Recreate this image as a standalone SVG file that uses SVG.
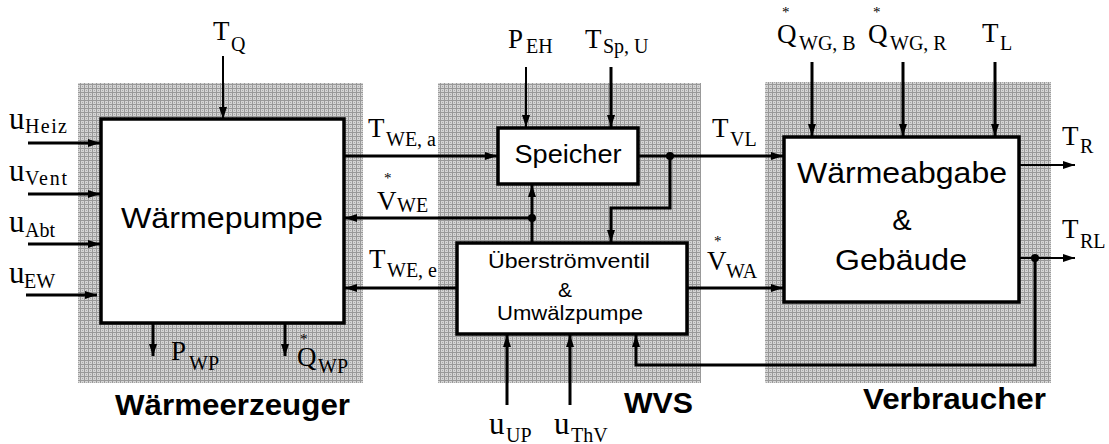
<svg xmlns="http://www.w3.org/2000/svg" width="1109" height="444" viewBox="0 0 1109 444">
<style>
.box{fill:#fff;stroke:#000;stroke-width:3.5}
.area{fill:url(#dots)}
.c{fill:none;stroke:#000;stroke-width:3}
.ct{fill:none;stroke:#000;stroke-width:2}
.bt{font-family:"Liberation Sans",Arial,sans-serif;fill:#000;text-anchor:middle}
.gl{font-family:"Liberation Sans",Arial,sans-serif;font-weight:bold;font-size:29px;fill:#000}
.lb{font-family:"Liberation Serif","Times New Roman",serif;font-size:27px;fill:#000}
.lu{font-size:31px}
.sb{font-size:20px}
.st{font-size:15px}
</style>
<defs>
<pattern id="dots" width="4" height="4" patternUnits="userSpaceOnUse">
<rect width="4" height="4" fill="#d4d4d4"/>
<rect x="0" y="0" width="4" height="1" fill="#999"/>
<rect x="0" y="0" width="1" height="4" fill="#999"/>
<rect x="2" y="2" width="1" height="1" fill="#a8a8a8"/>
</pattern>
<marker id="ah" markerUnits="userSpaceOnUse" markerWidth="12" markerHeight="10" refX="12" refY="5" orient="auto">
<path d="M0,1 L12,5 L0,9 z" fill="#000"/>
</marker>
</defs>
<rect width="1109" height="444" fill="#fff"/>

<g id="area-waermeerzeuger">
<rect class="area" x="78" y="83" width="285" height="300"/>
<text class="gl" x="115" y="415" textLength="235" lengthAdjust="spacingAndGlyphs">Wärmeerzeuger</text>
</g>
<g id="area-wvs">
<rect class="area" x="438" y="83" width="263" height="300"/>
<text class="gl" x="624" y="413" textLength="69" lengthAdjust="spacingAndGlyphs">WVS</text>
</g>
<g id="area-verbraucher">
<rect class="area" x="765" y="82" width="286" height="301"/>
<text class="gl" x="863" y="409" textLength="183" lengthAdjust="spacingAndGlyphs">Verbraucher</text>
</g>

<g id="connectors">
<line class="ct" x1="223" y1="56" x2="223" y2="119" marker-end="url(#ah)"/>
<line class="c" x1="28" y1="143" x2="100" y2="143" marker-end="url(#ah)"/>
<line class="c" x1="28" y1="194" x2="100" y2="194" marker-end="url(#ah)"/>
<line class="c" x1="28" y1="244" x2="100" y2="244" marker-end="url(#ah)"/>
<line class="c" x1="26" y1="295" x2="97" y2="295" marker-end="url(#ah)"/>
<line class="c" x1="153" y1="323" x2="153" y2="356" marker-end="url(#ah)"/>
<line class="c" x1="285" y1="323" x2="285" y2="356" marker-end="url(#ah)"/>
<line class="c" x1="344" y1="156" x2="497" y2="156" marker-end="url(#ah)"/>
<line class="c" x1="532" y1="243" x2="532" y2="185" marker-end="url(#ah)"/>
<line class="c" x1="532" y1="218" x2="345" y2="218" marker-end="url(#ah)"/>
<circle cx="532" cy="218" r="4"/>
<line class="c" x1="457" y1="288" x2="345" y2="288" marker-end="url(#ah)"/>
<line class="c" x1="638" y1="156" x2="783" y2="156" marker-end="url(#ah)"/>
<circle cx="670" cy="156" r="4"/>
<path class="c" d="M670,156 L670,208 L611,208 L611,242" marker-end="url(#ah)"/>
<line class="ct" x1="526" y1="67" x2="526" y2="127" marker-end="url(#ah)"/>
<line class="c" x1="611" y1="67" x2="611" y2="127" marker-end="url(#ah)"/>
<line class="c" x1="687" y1="288" x2="783" y2="288" marker-end="url(#ah)"/>
<line class="c" x1="812" y1="62" x2="812" y2="136" marker-end="url(#ah)"/>
<line class="c" x1="903" y1="62" x2="903" y2="136" marker-end="url(#ah)"/>
<line class="c" x1="995" y1="62" x2="995" y2="136" marker-end="url(#ah)"/>
<line class="ct" x1="1019" y1="165" x2="1075" y2="165" marker-end="url(#ah)"/>
<line class="ct" x1="1019" y1="258" x2="1075" y2="258" marker-end="url(#ah)"/>
<circle cx="1035" cy="258" r="4"/>
<path class="c" d="M1035,258 L1035,365 L636,365 L636,335" marker-end="url(#ah)"/>
<line class="c" x1="507" y1="405" x2="507" y2="335" marker-end="url(#ah)"/>
<line class="c" x1="570" y1="405" x2="570" y2="335" marker-end="url(#ah)"/>
</g>

<g id="node-waermepumpe">
<rect class="box" x="101" y="119" width="243" height="204"/>
<text class="bt" x="222" y="228" font-size="29" textLength="202" lengthAdjust="spacingAndGlyphs">Wärmepumpe</text>
</g>
<g id="node-speicher">
<rect class="box" x="498" y="128" width="140" height="56"/>
<text class="bt" x="568" y="163" font-size="26" textLength="107" lengthAdjust="spacingAndGlyphs">Speicher</text>
</g>
<g id="node-ueberstroemventil">
<rect class="box" x="457" y="243" width="230" height="91"/>
<text class="bt" x="569" y="268" font-size="21" textLength="162" lengthAdjust="spacingAndGlyphs">Überströmventil</text>
<text class="bt" x="565" y="297" font-size="21">&amp;</text>
<text class="bt" x="570" y="320" font-size="21" textLength="146" lengthAdjust="spacingAndGlyphs">Umwälzpumpe</text>
</g>
<g id="node-waermeabgabe">
<rect class="box" x="784" y="137" width="235" height="165"/>
<text class="bt" x="902" y="183" font-size="29" textLength="210" lengthAdjust="spacingAndGlyphs">Wärmeabgabe</text>
<text class="bt" x="902" y="230" font-size="29">&amp;</text>
<text class="bt" x="901" y="270" font-size="29" textLength="132" lengthAdjust="spacingAndGlyphs">Gebäude</text>
</g>

<g id="labels">
<text class="lb" x="213" y="40">T<tspan class="sb" x="231" y="51">Q</tspan></text>
<text class="lb"><tspan class="lu" x="9" y="129">u</tspan><tspan class="sb" x="25" y="133" textLength="42">Heiz</tspan></text>
<text class="lb"><tspan class="lu" x="9" y="181">u</tspan><tspan class="sb" x="25" y="185" textLength="42">Vent</tspan></text>
<text class="lb"><tspan class="lu" x="9" y="232">u</tspan><tspan class="sb" x="25" y="237">Abt</tspan></text>
<text class="lb"><tspan class="lu" x="9" y="283">u</tspan><tspan class="sb" x="24" y="288">EW</tspan></text>
<text class="lb" x="171" y="360">P<tspan class="sb" x="189" y="370">WP</tspan></text>
<text class="lb"><tspan class="st" x="300" y="344">*</tspan><tspan x="297" y="366">Q</tspan><tspan class="sb" x="318" y="373">WP</tspan></text>
<text class="lb" x="368" y="137">T<tspan class="sb" x="386" y="146">WE, a</tspan></text>
<text class="lb"><tspan class="st" x="384" y="183">*</tspan><tspan x="377" y="210">V</tspan><tspan class="sb" x="397" y="212">WE</tspan></text>
<text class="lb" x="369" y="268">T<tspan class="sb" x="387" y="277">WE, e</tspan></text>
<text class="lb" x="508" y="48">P<tspan class="sb" x="526" y="53">EH</tspan></text>
<text class="lb" x="585" y="48">T<tspan class="sb" x="603" y="53">Sp, U</tspan></text>
<text class="lb" x="712" y="137">T<tspan class="sb" x="730" y="146">VL</tspan></text>
<text class="lb"><tspan class="st" x="714" y="246">*</tspan><tspan x="707" y="270">V</tspan><tspan class="sb" x="726" y="278">WA</tspan></text>
<text class="lb"><tspan class="st" x="782" y="17">*</tspan><tspan x="777" y="43">Q</tspan><tspan class="sb" x="799" y="50">WG, B</tspan></text>
<text class="lb"><tspan class="st" x="873" y="17">*</tspan><tspan x="868" y="43">Q</tspan><tspan class="sb" x="890" y="50">WG, R</tspan></text>
<text class="lb" x="982" y="42">T<tspan class="sb" x="1000" y="50">L</tspan></text>
<text class="lb" x="1062" y="145">T<tspan class="sb" x="1080" y="153">R</tspan></text>
<text class="lb" x="1062" y="238">T<tspan class="sb" x="1080" y="248">RL</tspan></text>
<text class="lb"><tspan class="lu" x="489" y="434">u</tspan><tspan class="sb" x="506" y="442">UP</tspan></text>
<text class="lb"><tspan class="lu" x="554" y="434">u</tspan><tspan class="sb" x="571" y="442">ThV</tspan></text>
</g>
</svg>
